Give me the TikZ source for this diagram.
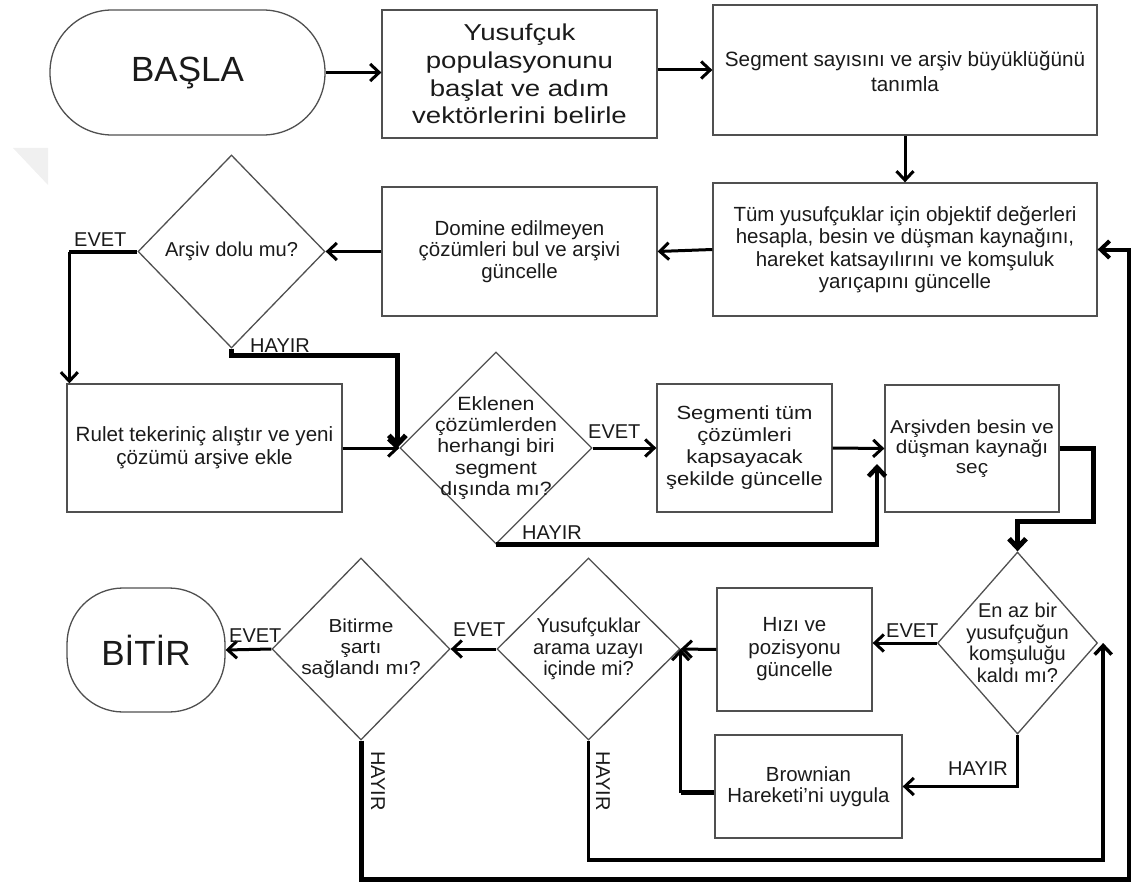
\documentclass[tikz,border=0pt]{standalone}
\usepackage{fontspec}
\setmainfont{Liberation Sans}
\newfontfamily\wideA[FakeStretch=1.2]{Liberation Sans}
\newfontfamily\wideC[FakeStretch=1.16]{Liberation Sans}
\newfontfamily\wideB[FakeStretch=1.11]{Liberation Sans}
\usetikzlibrary{shapes.geometric,arrows.meta,calc}
\definecolor{boxgray}{HTML}{505050}
\definecolor{txt}{HTML}{1A1A1A}
\begin{document}
\begin{tikzpicture}[x=1pt,y=-1pt,
  shp/.style={draw=boxgray, line width=1.3pt, align=center, text=txt},
  box/.style={shp, rectangle, inner sep=2pt},
  dia/.style={shp, diamond, inner sep=-60pt},
  term/.style={shp, rectangle, font=\fontsize{35}{42}\selectfont},
  fs/.style 2 args={font=\fontsize{#1}{#2}\selectfont},
  arr/.style={line width=3pt, -{Straight Barb[length=9pt, width=17pt]}},
  thk/.style={line width=5pt},
  lbl/.style={text=txt, inner sep=0pt, font=\fontsize{20}{22}\selectfont}
]
\useasboundingbox (0,0) rectangle (1131,885);
\fill[gray!12] (13,148) -- (48,148) -- (48,185) -- cycle;

% nodes
\node[term, rounded corners=62pt, minimum width=275pt, minimum height=125pt] (start) at (187.5,72.5) {BAŞLA};
\node[box, font=\wideA\fontsize{23}{27.8}\selectfont, minimum width=275pt, minimum height=128pt] (b1) at (519.5,74) {Yusufçuk\\populasyonunu\\başlat ve adım\\vektörlerini belirle};
\node[box, minimum width=384pt, minimum height=130pt] (b2) at (905,70) {};
\node[fs={20.7}{25}, text=txt, align=center] (b2t) at (905,71) {Segment sayısını ve arşiv büyüklüğünü\\tanımla};
\node[box, fs={20.5}{22.5}, minimum width=384pt, minimum height=133pt] (b3) at (905,249.5) {Tüm yusufçuklar için objektif değerleri\\hesapla, besin ve düşman kaynağını,\\hareket katsayılırını ve komşuluk\\yarıçapını güncelle};
\node[box, fs={20.5}{21.5}, minimum width=275pt, minimum height=129pt] (b4) at (519.5,251.5) {Domine edilmeyen\\çözümleri bul ve arşivi\\güncelle};
\node[dia, fs={20.1}{21}, minimum width=187pt, minimum height=193pt] (d1) at (231.5,251.5) {Arşiv dolu mu?};
\node[box, fs={20.6}{23}, minimum width=275pt, minimum height=128pt] (r) at (204.5,448) {Rulet tekeriniç alıştır ve yeni\\çözümü arşive ekle};
\node[dia, font=\wideB\fontsize{19.2}{21.3}\selectfont, minimum width=192pt, minimum height=192pt] (d2) at (496,448) {Eklenen\\çözümlerden\\herhangi biri\\segment\\dışında mı?};
\node[box, font=\wideC\fontsize{19}{22}\selectfont, minimum width=175pt, minimum height=128pt] (s) at (744.5,448) {Segmenti tüm\\çözümleri\\kapsayacak\\şekilde güncelle};
\node[box, font=\wideB\fontsize{18.7}{20}\selectfont, minimum width=174pt, minimum height=127pt] (a) at (972,448.5) {Arşivden besin ve\\düşman kaynağı\\seç};
\node[dia, fs={20}{21.5}, minimum width=160pt, minimum height=182pt] (d3) at (1017.5,643) {En az bir\\yusufçuğun\\komşuluğu\\kaldı mı?};
\node[box, fs={20.5}{22.5}, minimum width=155pt, minimum height=123pt] (h) at (794.5,649.5) {Hızı ve\\pozisyonu\\güncelle};
\node[box, fs={20.4}{21}, minimum width=187pt, minimum height=103pt] (br) at (808.5,786.5) {Brownian\\Hareketi'ni uygula};
\node[dia, fs={20.1}{21.5}, minimum width=183pt, minimum height=182pt] (d5) at (588.5,649) {Yusufçuklar\\arama uzayı\\içinde mi?};
\node[dia, font=\wideB\fontsize{18.8}{21}\selectfont, minimum width=178pt, minimum height=182pt] (d4) at (361,649) {Bitirme\\şartı\\sağlandı mı?};
\node[term, rounded corners=56pt, minimum width=158pt, minimum height=124pt] (end) at (146,650) {BİTİR};

% helper coordinates
\coordinate (rIn) at ($(r.north west)+(3,0)$);
\coordinate (aIn) at (877,464);
\coordinate (d3In) at ($(d3.east)+(5,0)$);
\coordinate (brW) at ($(br.west)+(0,6)$);
\coordinate (d5Up) at (brW -| d5.east);

% connectors
\draw[arr] (start.east) -- (start.east -| b1.west);
\draw[arr] (b1.east |- b2.west) -- (b2.west);
\draw[arr] (b2.south) -- (b3.north);
\draw[arr] (b3.west) -- (b4.east);
\draw[arr] (b4.west) -- (d1.east);
\draw[line width=4pt] (d1.west) -- (d1.west -| rIn);
\draw[arr] (d1.west -| rIn) -- (rIn);
\draw[thk, -{Straight Barb[length=9pt, width=17pt]}] (d1.south) -- ++(0,7) -| ($(d2.west)+(-2,0)$);
\draw[arr] (r.east) -- (d2.west);
\draw[arr] (d2.east) -- (s.west);
\draw[arr] (s.east) -- (a.west);
\draw[line width=4.5pt, -{Straight Barb[length=9pt, width=17pt]}] (d2.south) -| (aIn);
\draw[thk, -{Straight Barb[length=9pt, width=17pt]}] (a.east) -- ++(34,0) |- ($(d3.north)+(0,-30)$) -- (d3.north);
\draw[arr] (d3.west) -- (d3.west -| h.east);
\draw[arr] (d3.south) |- (br.east);
\draw[arr] (h.west) -- (d5.east);
\draw[thk] (brW) -- (d5Up);
\draw[arr] (d5Up) -- (d5.east);
\draw[arr] (d5.west) -- (d4.east);
\draw[arr] (d4.west) -- (end.east);
\draw[line width=3.5pt, -{Straight Barb[length=9pt, width=17pt]}] (d5.south) |- ($(d3In)+(0,217)$) -- (d3In);
\draw[thk] (d4.south) |- (1129,879) -- (1129,860);
\draw[line width=4pt, -{Straight Barb[length=9pt, width=17pt]}] (1129,862) |- (b3.east);

% labels
\node[lbl, anchor=base west] (l1) at (74,246) {EVET};
\node[lbl, anchor=base west] (l2) at (250,352) {HAYIR};
\node[lbl, anchor=base west] (l3) at (588,438) {EVET};
\node[lbl, anchor=base west] (l4) at (522,539) {HAYIR};
\node[lbl, anchor=base west] (l5) at (886,637) {EVET};
\node[lbl, anchor=base west] (l6) at (948,775) {HAYIR};
\node[lbl, anchor=base west] (l7) at (453,636) {EVET};
\node[lbl, rotate=-90] (l8) at (603,781) {HAYIR};
\node[lbl, anchor=base west] (l9) at (229,642) {EVET};
\node[lbl, rotate=-90] (l10) at (378,781) {HAYIR};
\end{tikzpicture}
\end{document}
